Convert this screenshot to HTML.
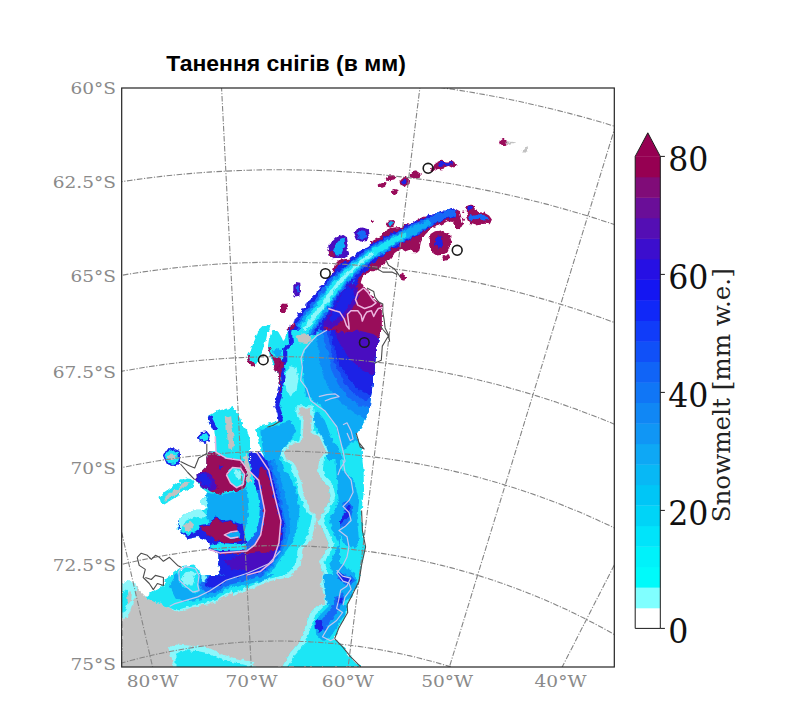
<!DOCTYPE html>
<html lang="uk"><head><meta charset="utf-8"><title>Танення снігів</title>
<style>
html,body{margin:0;padding:0;background:#fff;}
body{width:793px;height:720px;overflow:hidden;position:relative;font-family:"Liberation Sans",sans-serif;}
svg{position:absolute;left:0;top:0;display:block;}
.ttl{font-family:"Liberation Sans","DejaVu Sans",sans-serif;font-weight:bold;font-size:21.5px;fill:#000;}
.ax{font-family:"DejaVu Serif","Liberation Serif",serif;font-size:16.5px;fill:#8a8a8a;}
.cbt{font-family:"DejaVu Serif","Liberation Serif",serif;font-size:33.6px;fill:#111;}
.cbl{font-family:"DejaVu Serif","Liberation Serif",serif;font-size:25px;fill:#222;}
</style></head><body>
<svg width="793" height="720" viewBox="0 0 793 720">
<rect width="793" height="720" fill="#fff"/>
<defs><clipPath id="fr"><rect x="121.7" y="88" width="492.6" height="579"/></clipPath>
<filter id="bl" x="-2%" y="-2%" width="104%" height="104%"><feTurbulence type="fractalNoise" baseFrequency="0.22" numOctaves="2" seed="7" result="n"/><feDisplacementMap in="SourceGraphic" in2="n" scale="4.5" xChannelSelector="R" yChannelSelector="G" result="d"/><feGaussianBlur in="d" stdDeviation="0.5"/></filter></defs>
<g clip-path="url(#fr)">
<g filter="url(#bl)">
<defs><clipPath id="c1"><path d="M370 130 L540 130 L540 275 L370 275Z"/></clipPath><clipPath id="c2"><path d="M270 200 L370 200 L370 275 L445 275 L445 330 L270 330Z"/></clipPath><clipPath id="c3"><path d="M225 300 L290 300 L290 330 L400 330 L400 460 L250 460 L250 395 L225 395Z"/></clipPath><clipPath id="c4"><path d="M245 460 L400 460 L400 605 L232 605 L232 530 L245 530Z"/></clipPath><clipPath id="c5"><path d="M115 395 L250 395 L250 460 L245 460 L245 530 L115 530Z"/></clipPath><clipPath id="c6"><path d="M115 530 L232 530 L232 605 L272 605 L272 680 L115 680Z"/></clipPath><clipPath id="c7"><path d="M272 605 L440 605 L440 680 L272 680Z"/></clipPath><clipPath id="c8"><path d="M180 430 L250 430 L250 460 L340 460 L340 575 L180 575Z"/></clipPath></defs>
<g clip-path="url(#c1)">
<path fill="#99075a" d="M507.2 142.5 L506.4 144.6 L504.4 146 L501.9 146 L499.9 144.6 L499.1 142.5 L499.9 140.4 L501.9 139.1 L504.4 139.1 L506.4 140.4Z"/>
<path fill="#c2c2c2" d="M506.2 141.1 L515.7 142.5 L507.2 144.5Z M522.3 151.2 L526.4 145.7 L527.4 151.8Z"/>
<path fill="#99075a" d="M430.1 170.4 L432.6 165.9 L436.6 162.7 L441 160.7 L446.7 161.5 L451.7 160.7 L455.8 163.3 L456.4 166.7 L452.7 167.5 L449.7 165.9 L444.7 167.1 L442.6 170 L439.6 170.4 L437.6 167.5 L434.2 169.5 L431.5 171.6Z"/>
<path fill="#1a22e6" d="M437.6 163.9 L441 161.9 L447.7 162.3 L452.3 162.3 L453.1 164.3 L448.7 164.7 L443 165.5 L439.6 165.9Z"/>
<path fill="#99075a" d="M409.5 174.8 L412.4 172 L416.8 171.2 L420.4 173.4 L420.8 176.8 L417.6 178.4 L413.4 178 L410.4 177.6Z M399.5 180.4 L402.3 177.6 L406.7 176.8 L409.1 179.6 L408.3 184.1 L404.7 186.5 L400.7 185.3Z"/>
<path fill="#1a22e6" d="M406.5 182.1 L406.1 183.4 L405 184.2 L403.6 184.2 L402.5 183.4 L402.1 182.1 L402.5 180.8 L403.6 179.9 L405 179.9 L406.1 180.8Z"/>
<path fill="#99075a" d="M385.7 178 L389.2 175.6 L394.6 175.2 L397 177.6 L394.2 180.4 L389.8 181.3 L386.5 180.4Z M377.7 184.5 L381.1 182.9 L385.3 183.3 L385.3 186.5 L381.7 188.1 L378.1 187.3Z M391.8 190.5 L394.6 188.9 L397.4 190.1 L397.4 193.8 L394.6 195 L392.2 193.8Z M374 221.2 L373.7 222.2 L372.9 222.7 L371.9 222.7 L371.1 222.2 L370.8 221.2 L371.1 220.3 L371.9 219.7 L372.9 219.7 L373.7 220.3Z M386.1 223.2 L388.6 220.4 L392.6 220 L395 222.4 L393.8 226.4 L390.2 227.7 L386.9 226.4Z"/>
<path fill="#0eaaf5" d="M388.2 223.6 L390.2 221.2 L393 222 L392.6 225.2 L389.8 226.4Z"/>
<path fill="#99075a" d="M370 242.2 L376.1 239 L382.1 234.9 L385.7 230.5 L390.2 228.1 L400.3 226.9 L405.3 224 L410.4 224.4 L416.4 220.8 L422.9 216.8 L430.5 216.4 L436.6 214.3 L443 212.7 L449.1 210.3 L454.7 209.5 L460 212.3 L461.2 218 L463.2 224 L460 229.3 L455.6 227.7 L453.1 222 L447.5 221.2 L441 224.8 L435 226.4 L430.5 229.3 L424.9 234.9 L420.8 242.2 L419.2 251.1 L414 253.5 L410.4 249.5 L404.7 251.5 L400.3 249 L394.6 253.1 L390.2 259.1 L384.5 263.2 L378.1 269.6 L370 272.1Z"/>
<path fill="#1a22e6" d="M370 253.5 L376.1 251.1 L382.1 246.6 L386.9 240.6 L391 236.9 L402.3 232.5 L409.5 230.5 L414.8 228.5 L421.7 223.2 L427.3 220.4 L434.6 218.8 L441 216.4 L447.5 213.9 L453.1 212.3 L455.6 214.7 L454.7 217.6 L447.5 218.8 L441 220.4 L436.6 222 L429.7 224.8 L425.7 228.1 L417.6 234.5 L410.4 237.3 L406.3 240.6 L400.3 242.2 L394.2 245.4 L386.9 251.5 L382.1 255.9 L376.1 261.2 L370 264Z"/>
<path fill="#0eaaf5" d="M370 255.9 L378.1 251.9 L384.1 247 L390.2 240.6 L398.2 236.5 L406.3 234.1 L412.4 230.9 L416.4 230.9 L410.4 235.7 L404.3 239 L396.2 242.2 L390.2 247 L384.1 252.3 L378.1 256.7 L370 261.2Z"/>
<path fill="#8cf7fb" d="M374 255.5 L382.1 250.3 L388.2 245 L392.2 240.6 L396.2 239 L394.2 243 L389.4 247.8 L383.3 252.3 L376.1 257.1Z"/>
<path fill="#99075a" d="M428.9 239 L430.5 234.1 L435 231.3 L441 230.5 L445.1 232.5 L449.9 234.9 L451.5 240.6 L449.9 247 L447.5 252.3 L442.6 254.7 L436.6 255.5 L431.7 252.3 L429.3 247Z"/>
<path fill="#1a22e6" d="M435 240.6 L436.6 236.5 L439.8 235.3 L442.2 239 L443 244.2 L441 247.8 L437.4 247.4 L435.4 244.6Z"/>
<path fill="#99075a" d="M442.2 256.7 L449.1 255.1 L450.3 257.9 L443.4 259.9Z M465.2 207.5 L468.5 205.1 L473.3 206.3 L475.7 209.9 L479 212.3 L484.2 212.7 L489 215.6 L491.9 219.6 L490.3 223.2 L485 222.8 L480.6 224.8 L474.9 225.6 L470.1 224 L467.7 220.4 L466 216.4 L468.1 212.7 L465.6 210.3Z"/>
<path fill="#1469f6" d="M467.7 217.2 L470.9 214.7 L476.9 213.9 L482.2 214.7 L487.8 217.2 L489 220 L484.2 220.4 L479 218.8 L473.7 219.6 L469.3 220.4Z"/>
<path fill="#1a22e6" d="M472.1 208.3 L471.6 209.4 L470.4 210 L468.9 210 L467.7 209.4 L467.3 208.3 L467.7 207.2 L468.9 206.6 L470.4 206.6 L471.6 207.2Z"/>
<path fill="#99075a" d="M464.4 211.7 L464.2 212.4 L463.6 212.9 L462.8 212.9 L462.2 212.4 L462 211.7 L462.2 211 L462.8 210.6 L463.6 210.6 L464.2 211Z M465 218.8 L464.8 219.4 L464.3 219.7 L463.7 219.7 L463.2 219.4 L463 218.8 L463.2 218.2 L463.7 217.8 L464.3 217.8 L464.8 218.2Z"/>
</g>
<g clip-path="url(#c2)">
<path fill="#99075a" d="M440 215 L429.3 217 L421.2 220 L413.2 223.1 L403.1 229.1 L393 230.1 L384.9 235.2 L374.8 241.2 L368.8 247.3 L360.7 253.3 L350.6 258.4 L340.5 259.4 L334.5 265.4 L331.5 275.5 L328.4 281.6 L323.4 287.6 L320.4 295.7 L312.3 301.8 L304.2 307.8 L300.2 315.9 L294.1 324 L288.1 328 L286.1 336.1 L280 340.1 L280 360.1 L381.7 360.1 L381.9 305.2 L380.9 303.4 L374.8 299.7 L368.8 291.7 L364.7 287.6 L360.7 281.6 L362.7 275.5 L370 271.9 L378.1 269.5 L384.5 263.2 L390.2 259 L401.1 251.3 L413.2 245.3 L425.3 239.2 L440 235.2Z"/>
<path fill="#4a10c0" d="M327.6 249.3 L330.4 243.2 L336.5 237.2 L342.6 234.4 L347 237.2 L347.8 243.2 L346.6 249.3 L348.6 254.5 L344.6 258.2 L338.5 257.4 L332.9 258.2 L328.4 255.4Z"/>
<path fill="#99075a" d="M327.6 249.3 L332.9 251.3 L334.5 257.4 L329.2 256.2Z"/>
<path fill="#0eaaf5" d="M332.9 251.3 L335.7 244.5 L340.5 238.8 L344.6 237.6 L345 243.2 L342.6 249.7 L340.5 254.5 L336.5 255.4Z"/>
<path fill="#4a10c0" d="M354.3 233.2 L357.5 228.3 L362.7 227.5 L368.8 229.5 L369.6 235.2 L366.8 240.8 L361.5 242 L356.7 239.2Z"/>
<path fill="#1469f6" d="M357.5 233.6 L359.9 230.3 L364.7 230.7 L366.8 234.8 L363.9 238.8 L359.9 238.4Z"/>
<path fill="#4a10c0" d="M293.3 285.6 L296.1 282 L300.2 282.8 L301 289.7 L299.4 295.7 L295.3 296.5 L293.3 291.7Z"/>
<path fill="#1469f6" d="M295.7 286 L298.6 284.8 L299 291.7 L296.5 293.7Z"/>
<path fill="#99075a" d="M280 305 L284 303.4 L288.1 305 L287.3 309.8 L282.8 312.3 L280 311Z M374.4 221.1 L374.1 222 L373.3 222.6 L372.3 222.6 L371.5 222 L371.2 221.1 L371.5 220.1 L372.3 219.5 L373.3 219.5 L374.1 220.1Z M372.6 235.2 L372.3 236 L371.6 236.5 L370.8 236.5 L370.1 236 L369.8 235.2 L370.1 234.3 L370.8 233.8 L371.6 233.8 L372.3 234.3Z M399 274.7 L402.3 273.5 L405.5 277.6 L403.5 280.8 L400.3 279.2Z"/>
<path fill="#1a22e6" d="M440 217 L429.3 219.4 L421.2 222.7 L413.2 225.9 L403.5 231.5 L393.8 232.8 L385.7 237.6 L376 243.7 L370 249.7 L361.5 255.8 L351 261 L342.1 262.2 L336.9 267.1 L334.1 276.3 L330.8 283.2 L326 289.3 L322.8 297.3 L314.7 303.8 L307 309.8 L302.6 317.5 L296.5 325.6 L290.9 330 L288.9 337.3 L282 342.1 L280 344.1 L280 360.1 L310.3 360.1 L318.3 346.2 L323.4 336.1 L324.8 325.6 L328.4 315.9 L332.9 308.2 L340.5 300.6 L348.6 294.1 L355.1 287.6 L357.9 281.6 L360.7 273.9 L370.8 267.9 L376.9 261.8 L384.9 255.8 L393 249.7 L401.1 245.7 L409.1 241.6 L419.2 237.6 L429.3 234.4 L440 230.7Z"/>
<path fill="#1469f6" d="M440 219.4 L429.3 222.3 L421.2 225.1 L413.2 228.3 L404.3 233.6 L395 235.2 L386.9 239.6 L377.7 245.7 L371.2 251.7 L362.7 257.8 L351.8 263 L343.8 264.6 L339.3 268.7 L336.5 277.6 L333.3 284.4 L328.4 290.9 L325.2 298.5 L317.1 305.4 L309.5 311.4 L305 318.7 L299 326.8 L293.3 331.6 L291.3 338.5 L284 344.1 L280 347.4 L280 360.1 L304.2 360.1 L314.3 344.1 L319.5 334 L321.2 324 L325.2 314.3 L329.6 307 L337.3 298.9 L345.4 292.5 L351.8 286 L355.1 280 L357.9 272.3 L368 265.8 L374 259.8 L382.1 253.7 L390.2 248.1 L399 243.7 L407.1 239.6 L417.2 235.6 L427.3 232.4 L440 227.9Z"/>
<path fill="#1fe6f5" d="M440 221.9 L429.3 225.1 L421.2 227.5 L413.2 231.1 L405.1 236 L396.2 238 L388.2 242 L379.3 248.1 L372.8 254.1 L364.3 260.2 L353.4 265.4 L345.8 267.9 L341.7 271.5 L338.9 279.2 L335.7 286 L330.8 292.9 L327.6 300.6 L319.5 307.4 L311.9 313.5 L307.4 320.7 L301.4 328.8 L296.1 334 L293.7 340.5 L286.9 346.2 L280 352.2 L280 360.1 L298.2 360.1 L308.2 346.2 L314.7 334 L317.1 324 L321.6 313.1 L326.8 305.4 L334.5 296.9 L342.6 290.1 L348.6 284.4 L351.8 278.4 L355.1 270.7 L365.6 263.8 L371.6 257.8 L379.7 251.7 L387.7 246.1 L397 241.6 L405.1 237.6 L415.2 233.6 L425.3 230.7 L440 225.1Z"/>
<path fill="#8cf7fb" d="M409.1 234.8 L399 238.8 L390.2 243.7 L380.9 249.7 L374.4 255.8 L366 261.8 L355.1 267.5 L347.8 270.7 L344.6 275.5 L341.3 282.8 L337.7 288.8 L332.9 295.3 L329.6 302.6 L321.6 309.4 L314.3 315.5 L309.9 322.7 L303.8 330.8 L298.6 336.1 L296.1 342.5 L290.1 347.4 L292.1 352.2 L302.2 344.1 L310.3 334 L313.5 324 L318.3 313.1 L323.6 305 L331.3 296.1 L339.3 288.8 L345.4 282.8 L348.6 276.7 L352.2 269.5 L363.1 262.6 L369.6 256.6 L377.7 250.5 L385.7 244.9 L395 240.4 L403.1 236.8Z"/>
<path fill="#4a10c0" d="M327.4 328 L332.9 336.9 L340.5 340.5 L348.6 336.5 L356.7 334.5 L366.8 332.4 L376.9 334 L381.7 336.1 L381.7 360.1 L310.3 360.1 L318.3 346.2 L323.4 336.1Z"/>
<path fill="#1a22e6" d="M323.4 336.1 L328.4 340.1 L336.5 344.1 L346.6 344.1 L356.7 346.2 L364.7 354.2 L370.8 360.1 L310.3 360.1 L318.3 346.2Z"/>
<path fill="#1469f6" d="M320.4 342.1 L328.4 344.1 L336.5 348.2 L344.6 352.2 L350.6 360.1 L306.2 360.1 L314.3 346.2Z"/>
<path fill="#0eaaf5" d="M314.3 346.2 L322.4 346.2 L330.4 352.2 L334.5 360.1 L304.2 360.1Z"/>
</g>
<g clip-path="url(#c3)">
<path fill="#1fe6f5" d="M290.5 330 L380.3 330 L376.1 350.2 L374.5 370.4 L371.6 390.5 L369.2 410.7 L361.6 426.9 L355.5 434.9 L359.1 443 L362.4 451.1 L363.6 475.1 L270.4 475.1 L266.7 459.1 L260.7 451.1 L258.2 439 L256.2 429.3 L262.3 424.8 L278.4 421.2 L277.4 410.7 L275.6 404.7 L278.4 396.6 L280.4 386.5 L278.4 376.4 L276.8 370.4 L278.8 364.3 L282.9 356.2 L282.9 342.1 L286.5 334Z M246.5 357.5 L250.3 350.6 L254.1 341.7 L257.9 331.6 L264.2 325.3 L270.5 324 L269.5 329.1 L267 334.1 L265.7 340.5 L263.2 348 L261.9 353.1 L258.1 359.4 L255.6 365.7 L250.3 366 L247.8 361.9Z"/>
<path fill="#99075a" d="M246.5 357.5 L248.5 354.4 L249.8 359.4 L252.1 362.7 L256.1 363.7 L255.6 366 L250.3 366.2 L247.8 362.2Z"/>
<path fill="#1fe6f5" d="M269.2 337.9 L273 329.1 L278.1 331.6 L281.9 337.9 L284.4 344.2 L288.2 343 L290.7 353.1 L285.7 359.4 L284.4 368.3 L280.6 375.9 L275.6 370.8 L273 363.2 L269.2 354.4 L268 345.5Z"/>
<path fill="#99075a" d="M268 346.8 L270 348 L272 354.4 L275.3 357.1 L279.4 357.6 L282.1 359.4 L280.6 365.7 L278.1 370.8 L275.1 372.1 L273.5 368.3 L275.6 363.2 L273 359.4 L270 354.4Z"/>
<path fill="#0eaaf5" d="M273 350.6 L276.8 348 L280.6 350.6 L281.9 356.9 L278.1 356.9 L274.6 355.6Z"/>
<path fill="#99075a" d="M280.1 310.1 L282.1 306.6 L285.2 303.8 L288 303.8 L287.2 307.6 L284.4 312.1 L281.4 313.1Z"/>
<path fill="#c2c2c2" d="M296.6 336.1 L302.6 333.2 L310.7 334.8 L312.7 340.1 L306.7 342.9 L298.6 342.1Z"/>
<path fill="#0eaaf5" d="M260.3 430.4 L278.4 424.8 L290.5 420.4 L296.6 430.4 L290.5 440.5 L282.9 450.6 L278.4 464.7 L270.4 468.8 L264.3 460.7 L262.3 446.6Z M316.8 410.3 L324.8 420.4 L330.9 436.5 L339 448.6 L343 460.7 L334.9 464.7 L326.9 456.7 L324.8 444.6 L318.8 432.5 L312.7 420.4Z"/>
<path fill="#c2c2c2" stroke="#8cf7fb" stroke-width="5" stroke-linejoin="round" paint-order="stroke" d="M297.9 407.7 L310.6 407.7 L311.8 420 L310.6 432.6 L319.4 436.4 L323.2 445.3 L325.7 452.9 L320.7 457.9 L318.2 470.6 L320.7 478.2 L328.3 485.7 L330.8 495.9 L327 506 L325.7 510.9 L310.6 510.9 L306.8 500.9 L303 493.3 L301.7 483.2 L297.9 473.1 L295.4 465.5 L285.3 457.9 L282.8 452.9 L291.6 444 L301.7 442.8 L303 432.6 L303.6 420 L299.2 413.7Z"/>
<path fill="#8cf7fb" d="M286.5 370.4 L290.5 366.3 L296.6 368.3 L298.6 378.4 L296.6 390.5 L290.5 396.6 L286.5 390.5 L284.5 380.4Z"/>
<path fill="#0eaaf5" d="M327.1 330 L316.6 335.9 L304.1 350 L302.4 367.7 L304.1 381.9 L305.9 396 L320 404.7 L324.8 410.7 L330.9 418.8 L336.9 426.9 L340 439 L343 451.1 L345 461.2 L340 469.2 L337.9 475.1 L363.6 475.1 L362.4 451.1 L359.1 443 L355.5 434.9 L361.6 426.9 L369.2 410.7 L371.6 390.5 L374.5 370.4 L376.1 350.2 L380.3 330Z"/>
<path fill="#1fe6f5" d="M343 451.1 L349 445 L356.1 440 L359.1 443 L362.4 451.1 L363.6 475.1 L337.9 475.1 L340 469.2 L345 461.2Z"/>
<path fill="#108cf6" d="M318.2 330 L316.8 338.1 L318.8 352.2 L321.2 369.3 L328.1 386.5 L339 400.6 L353.1 412.7 L365.2 418.8 L369.2 410.7 L371.6 390.5 L374.5 370.4 L376.1 350.2 L380.3 330Z"/>
<path fill="#1469f6" d="M322.8 330 L323.2 338.1 L327.7 351.8 L331.1 369.3 L338.2 384.5 L348.8 397.6 L361 406.7 L370 406.7 L371.6 390.5 L374.5 370.4 L376.1 350.2 L380.3 330Z"/>
<path fill="#1646f2" d="M326.9 330 L327.7 336.1 L331.3 350.2 L335.7 366.3 L343.4 380.4 L353.5 393.6 L365.2 400.6 L370.8 398.6 L374.5 370.4 L376.1 350.2 L380.3 330Z"/>
<path fill="#1a22e6" d="M329.9 330 L330.7 332.4 L334.1 348.2 L339.4 364.1 L348.2 378.2 L358.9 390.5 L371.2 394.6 L374.5 370.4 L376.1 350.2 L380.3 330Z"/>
<path fill="#4a10c0" d="M332.9 330 L334.1 330.6 L339.4 342.9 L348.2 357 L358.9 367.7 L373.1 374.8 L374.5 370.4 L376.1 350.2 L380.3 330Z"/>
<path fill="#99075a" d="M328.9 330 L334.1 330.6 L344.8 332.4 L358.9 330.6 L373.1 334 L379.3 338.1 L380.3 330Z"/>
<path fill="#1a22e6" d="M289.9 325.4 L288.1 332.4 L289.1 342.9 L283.1 348.4 L283.1 360.7 L279.4 367.7 L281.3 378.2 L277.6 388.9 L276.8 396 L274.2 404.9 L277.6 413.5 L278.4 421.2 L282.9 421.2 L282.1 413.5 L279.2 404.9 L281.7 396 L282.5 388.9 L285.7 378.2 L284.1 367.7 L287.3 360.7 L287.3 350.2 L293 344.1 L292.1 332.4 L293.8 325.4Z"/>
<path fill="#99075a" d="M278.8 364.3 L281.7 360.3 L284.1 364.3 L281.7 370.4 L280.4 378.4 L281.7 386.5 L280 392.6 L278.4 396.6 L280.4 386.5 L278.4 376.4 L276.8 370.4Z"/>
<path fill="#1fe6f5" d="M230 406.7 L236.1 408.7 L241.3 416.8 L242.1 430.9 L244.1 443 L248.2 451.1 L242.1 453.1 L230 451.1Z"/>
<path fill="#c2c2c2" d="M230 418.8 L234 424.8 L238.1 443 L240.1 451.1 L230 451.1Z"/>
<path fill="#99075a" d="M230 453.1 L242.1 453.5 L248.2 459.1 L250.2 467.2 L252.2 475.1 L230 475.1Z"/>
<path fill="#1a22e6" d="M250.2 451.1 L260.3 453.1 L266.7 461.2 L270.4 475.1 L254.2 475.1 L252.2 465.2Z"/>
</g>
<g clip-path="url(#c4)">
<path fill="#1fe6f5" d="M230 460 L362.4 460 L363.6 470.1 L364 490.3 L361.6 510.4 L362.4 530.6 L365.6 546.8 L361.6 564.9 L359.1 581.1 L351.1 597.2 L347 605.1 L230 605.1Z"/>
<path fill="#8cf7fb" d="M290.5 460 L296.6 480.2 L304.7 500.4 L310.7 516.5 L309.1 526.6 L305.1 540.7 L297.4 548.8 L295 564.9 L285.7 575 L268.3 579 L248.2 587.1 L230 594.8 L230 605.1 L330.9 605.1 L326.9 585.1 L328.9 573 L324.8 560.9 L330.9 552.8 L334.9 544.7 L328.9 530.6 L322.8 520.5 L328.9 512.5 L334.9 500.4 L332.9 486.2 L322.8 476.1 L322 460Z"/>
<path fill="#c2c2c2" d="M296.6 460 L302.6 480.2 L310.7 500.4 L316.8 516.5 L314.7 526.6 L310.7 540.7 L302.6 548.8 L300.6 564.9 L290.5 577 L270.4 581.1 L250.2 589.1 L230 597.2 L230 605.1 L324.8 605.1 L324.8 597.2 L320.8 585.1 L322.8 573 L318.8 560.9 L324.8 552.8 L328.9 544.7 L322.8 530.6 L316.8 520.5 L322.8 512.5 L328.9 500.4 L326.9 486.2 L316.8 476.1 L316.8 460Z"/>
<path fill="#0eaaf5" d="M230 460 L290.5 460 L294.6 480.2 L298.6 500.4 L304.7 516.5 L300.6 530.6 L296.6 544.7 L290.5 560.9 L280.4 571 L265.3 580.1 L249.2 584.1 L230 588.1Z"/>
<path fill="#1469f6" d="M230 460 L278.4 460 L280.4 480.2 L284.5 500.4 L288.5 520.5 L287.5 532.6 L284.5 546.8 L276.8 564.9 L263.3 575.8 L248.2 579.9 L230 583.5Z"/>
<path fill="#1a22e6" d="M230 460 L272.4 460 L275.4 480.2 L278.4 500.4 L282.9 520.5 L282.9 530.6 L279.6 542.9 L272.8 561.1 L260.7 571.2 L246.5 575 L230 578.4Z"/>
<path fill="#99075a" d="M230 460 L269.5 460 L271.4 480.2 L274.8 500.4 L280.4 520.5 L280.4 530.6 L274.8 540.7 L260.3 547.2 L246.1 551.2 L230 553.2Z"/>
<path fill="#1a22e6" d="M230 460 L258.2 460 L262.3 480.2 L266.7 500.4 L265.5 520.5 L262.3 532.6 L256.2 540.7 L246.1 546.8 L230 548.8Z"/>
<path fill="#1469f6" d="M230 460 L254.2 460 L257.8 480.2 L260.3 500.4 L258.2 520.5 L252.2 536.7 L242.1 542.7 L230 544.7Z"/>
<path fill="#0eaaf5" d="M230 460 L250.2 460 L252.2 480.2 L254.2 500.4 L250.2 520.5 L242.1 534.7 L230 538.7Z"/>
<path fill="#1fe6f5" d="M230 488.2 L242.1 490.3 L248.2 500.4 L246.1 512.5 L238.1 516.5 L230 516.5Z"/>
<path fill="#1a22e6" d="M230 460 L246.1 460 L248.2 472.1 L244.1 488.2 L230 490.3Z"/>
<path fill="#99075a" d="M230 460 L242.1 460 L244.1 472.1 L240.1 486.2 L230 488.2Z"/>
<path fill="#1a22e6" d="M230 516.5 L238.1 518.5 L241.3 526.6 L236.1 533 L230 533Z"/>
<path fill="#99075a" d="M230 518.9 L236.1 520.5 L238.1 526.6 L234 530.6 L230 530.6Z"/>
<path fill="#0eaaf5" d="M324.8 472.1 L334.9 468.1 L347 472.1 L355.1 484.2 L359.1 500.4 L357.1 520.5 L359.1 540.7 L355.1 548.8 L345 544.7 L339 532.6 L334.9 520.5 L336.9 508.4 L334.9 492.3 L328.9 482.2Z"/>
<path fill="#1469f6" d="M343 502.4 L349 500.4 L353.1 508.4 L351.1 518.5 L345 526.6 L336.9 528.6 L334.9 524.6 L343 518.5 L345 510.4Z"/>
<path fill="#1a22e6" d="M345.4 505.6 L349 504.8 L350.3 510.4 L347.8 516.5 L344.2 520.5 L340.6 524.2 L339 523 L344.2 516.5 L345.8 510.4Z"/>
<path fill="#0eaaf5" d="M326.9 564.9 L339 562.9 L355.1 573 L357.1 585.1 L349 597.2 L343 605.1 L326.9 605.1 L324.8 591.2 L322.8 577Z"/>
<path fill="#1469f6" d="M334.9 569 L343 573 L351.1 577 L355.1 581.1 L349 585.1 L343 583.1 L336.9 577Z"/>
<path fill="#1a22e6" d="M336.9 571.4 L343 574.2 L349 577.8 L351.1 580.7 L347 582.3 L342.2 580.3 L338.2 575.8Z"/>
<path fill="#1469f6" d="M334.9 597.2 L343 593.2 L345 601.2 L341 605.1 L334.9 605.1Z"/>
<path fill="#1a22e6" d="M337.3 599.2 L341.4 597.2 L342.2 602.1 L339 603.7Z"/>
</g>
<g clip-path="url(#c5)">
<path fill="#1fe6f5" d="M206.8 417.2 L216.9 411.1 L233 407.1 L239 415.2 L245.1 431.3 L251.2 447.5 L259.2 455.5 L261.2 475.7 L265.3 495.9 L269.3 516.1 L273.3 540.1 L178.5 540.1 L177.5 526.2 L180.5 516.1 L188.6 511 L200.7 508 L204.7 499.9 L200.7 491.9 L195.1 481.8 L195.1 475.7 L206.8 461.6 L208.8 453.5 L214.8 445.4 L214.8 435.4 L210.8 427.3Z"/>
<path fill="#1a22e6" d="M206.8 417.2 L210.8 415.2 L214.8 423.2 L218.9 435.4 L218.9 445.4 L214.8 453.5 L208.8 453.5 L214.8 445.4 L214.8 435.4 L210.8 427.3Z"/>
<path fill="#c2c2c2" d="M224.9 417.2 L231 415.2 L233 431.3 L232.2 447.5 L226.9 445.4 L225.7 431.3Z M245.1 453.5 L251.2 451.5 L253.6 463.6 L253.2 475.7 L247.1 473.7Z"/>
<path fill="#1a22e6" d="M197.5 435.4 L200.7 432.1 L206.8 432.5 L209.2 437.4 L208 442.6 L202.7 443.8 L198.7 440.6Z"/>
<path fill="#1fe6f5" d="M199.5 436.2 L201.9 434.1 L206 434.5 L207.2 437.8 L206 441 L202.7 441.8 L200.3 439.8Z"/>
<path fill="#1a22e6" d="M162.8 455.5 L165.6 449.9 L172.5 447.9 L179.3 450.7 L181.3 457.6 L179.7 464 L172.9 466 L166.8 464Z"/>
<path fill="#1fe6f5" d="M164.4 455.9 L166.8 451.5 L172.5 449.9 L177.7 452.3 L179.3 457.6 L178.1 462.4 L172.9 464 L168 462.4Z"/>
<path fill="#c2c2c2" d="M167.6 456.7 L170.4 453.5 L175.7 454.3 L176.5 458.8 L172.9 460.8 L169.2 460Z"/>
<path fill="#1fe6f5" d="M159.5 497.9 L164.4 491.9 L176.5 483.8 L188.6 478.9 L195.1 480.6 L195.1 486.2 L186.6 491.9 L174.5 497.9 L164.4 504 L161.2 504Z"/>
<path fill="#c2c2c2" d="M163.6 498.3 L168.4 493.9 L178.5 488.2 L188.6 483.8 L190.6 486.2 L180.5 491.9 L170.4 497.5 L165.2 500.7Z"/>
<path fill="#99075a" d="M208.8 453.5 L216.9 455.5 L229 453.5 L241.1 453.5 L243.5 463.6 L245.5 475.7 L243.5 487.8 L237 492.3 L224.9 492.3 L220.9 496.3 L212.8 493.9 L204.7 496.3 L200.7 491.9 L195.1 481.8 L195.1 475.7 L206.8 461.6Z"/>
<path fill="#4a10c0" d="M195.1 475.7 L204.7 470.1 L214.8 475.7 L217.3 485.8 L208.8 492.3 L200.7 491.9 L195.1 481.8Z"/>
<path fill="#1a22e6" d="M195.1 476.5 L202.7 473.7 L208.8 479.7 L206.8 487.8 L200.7 489.8 L195.9 481.8Z"/>
<path fill="#1fe6f5" d="M226.9 472.1 L233 467.6 L241.1 469.7 L243.5 479.7 L239 484.2 L231 482.2Z"/>
<path fill="#8cf7fb" d="M235 472.9 L240.3 472.1 L241.5 478.5 L237.4 480.6Z"/>
<path fill="#1a22e6" d="M214.8 445.4 L220.9 446.7 L229 451.9 L241.1 452.3 L249.1 449.5 L251.2 447.9 L259.2 455.5 L261.2 475.7 L253.2 475.7 L249.1 461.6 L243.5 455.5 L229 454.7 L216.9 456.3 L208.8 453.9Z"/>
<path fill="#0eaaf5" d="M204.7 499.9 L214.8 495.9 L229 499.9 L241.1 508 L249.1 520.1 L253.2 540.1 L200.7 540.1 L200.7 516.1Z"/>
<path fill="#99075a" d="M208.8 524.1 L216.9 516.5 L224.9 524.1 L233 520.5 L241.1 524.5 L242.3 540.1 L208.8 540.1Z"/>
<path fill="#1a22e6" d="M178.5 524.1 L180.5 516.1 L188.6 511 L200.7 508 L204.7 512 L192.6 516.1 L184.6 522.1 L182.6 540.1 L178.5 540.1Z"/>
<path fill="#c2c2c2" d="M184.6 526.2 L188.6 523.3 L191.8 528.2 L188.6 534.2 L185 532.2Z"/>
<path fill="#1a22e6" d="M259.2 455.5 L269.3 451.5 L280 459.6 L280 540.1 L269.3 540.1 L266.1 516.1 L262.5 495.9 L259.2 475.7Z"/>
<path fill="#99075a" d="M264.5 457.6 L272.5 454.7 L280 463.6 L280 540.1 L274.2 540.1 L270.1 516.1 L266.1 495.9 L262.5 475.7Z"/>
<path fill="#1fe6f5" d="M257.2 431.3 L263.3 423.2 L273.3 425.3 L280 423.2 L280 459.6 L269.3 451.5 L261.2 454.7 L258 443.4Z"/>
</g>
<g clip-path="url(#c6)">
<path fill="#1fe6f5" d="M177.6 525 L181.6 533.1 L195.7 539.1 L207.8 537.1 L209.8 545.2 L207.8 551.2 L215.9 559.3 L219.9 565.4 L225 573.4 L215.9 571.4 L209.8 570.4 L199.7 573.4 L197.7 568.4 L183.6 565.4 L175.5 571.4 L165.4 579.5 L163.4 585.5 L155.4 589.6 L145.3 597.6 L143.2 603.7 L155.4 605.7 L167.5 609.7 L175.5 613.8 L195.7 607.7 L215.9 603.7 L228 595.6 L240.1 587.6 L256.2 585.5 L275 581.5 L275 525Z"/>
<path fill="#8cf7fb" d="M143.2 599.7 L155.4 602.5 L167.5 606.5 L175.5 610.6 L195.7 604.5 L215.9 600.5 L228 592.4 L240.1 584.7 L256.2 582.3 L275 577.9 L275 585.5 L256.2 588 L240.1 590 L228 598 L215.9 606.1 L195.7 610.6 L175.5 616.2 L167.5 612.2 L155.4 608.1 L143.2 605.7Z"/>
<path fill="#0eaaf5" d="M211.9 547.2 L275 543.2 L275 573.4 L256.2 577.9 L240.1 579.9 L228 588 L215.9 595.6 L199.7 599.7 L183.6 601.7 L175.5 597.6 L169.5 585.5 L175.5 575.4 L183.6 569.4 L195.7 573.4 L209.8 573.4 L225 575.4 L219.9 565.4 L215.9 559.3Z"/>
<path fill="#1469f6" d="M211.9 547.2 L275 543.2 L275 566.4 L260.3 572.6 L244.1 577.9 L232 583.5 L219.9 590 L207.8 594.4 L199.7 585.5 L203.8 577.5 L209.8 574.4 L225 575.4 L219.9 565.4 L215.9 559.3Z"/>
<path fill="#1a22e6" d="M209.8 545.2 L275 539.1 L275 559.3 L264.3 565.4 L252.2 570.6 L240.1 575.4 L230 578.7 L219.9 584.7 L211.9 588.8 L204.6 584.7 L209.8 575.4 L225 575.4 L219.9 563.3 L213.9 555.3Z"/>
<path fill="#0eaaf5" d="M209.8 545.2 L219.9 541.1 L236.1 543.2 L244.1 547.2 L236.1 551.2 L224 552 L213.9 551.2Z"/>
<path fill="#99075a" d="M244.1 547.2 L256.2 544.4 L275 543.2 L275 525 L256.2 525 L260.3 533.1 L256.2 541.1Z"/>
<path fill="#1fe6f5" d="M178 577.5 L183.6 569.4 L193.7 567.8 L198.9 572.6 L197.7 581.5 L199.7 589.6 L194.9 594 L187.6 589.6 L181.6 585.5Z"/>
<path fill="#8cf7fb" d="M181.6 577.9 L185.6 573.4 L192.5 572.6 L194.9 577.9 L192.5 585.5 L187.6 585.5 L183.6 582.7Z M201.4 575.8 L205 574.6 L206.6 579.5 L203.8 582.7 L201.4 580.7Z"/>
<path fill="#1a22e6" d="M177.6 525 L181.6 533.1 L195.7 539.1 L207.8 537.1 L209.8 545.2 L219.9 541.1 L236.1 543.2 L244.1 547.2 L256.2 541.1 L260.3 533.1 L256.2 525Z"/>
<path fill="#1fe6f5" d="M179.6 525 L183.6 532.3 L193.7 535.9 L199.7 533.1 L199.7 525Z"/>
<path fill="#99075a" d="M201.8 525 L203.8 533.1 L211.9 537.9 L224 539.1 L236.1 537.1 L242.1 531.1 L240.1 525Z"/>
<path fill="#0eaaf5" d="M219.9 529 L228 527 L236.1 529 L234 533.9 L226 535.1 L220.7 533.9Z"/>
<path fill="#c2c2c2" d="M122.1 619.8 L127.1 613.8 L135.2 585.5 L147.3 598.4 L155.4 602.5 L167.5 606.5 L175.5 612.6 L195.7 606.5 L215.9 602.5 L228 594.4 L240.1 586.3 L256.2 584.3 L275 579.9 L275 670.1 L122.1 670.1Z"/>
<path fill="#8cf7fb" d="M122.1 585.5 L127.1 579.5 L135.2 583.5 L137.2 591.6 L133.2 601.7 L129.1 613.8 L125.1 619.8 L122.1 619.8Z"/>
<path fill="#1fe6f5" d="M122.1 591.6 L127.1 589.6 L129.1 599.7 L125.1 609.7 L122.1 611.8Z"/>
<path fill="#c2c2c2" d="M127.1 591.6 L131.9 591.6 L131.1 601.7 L127.9 605.7Z"/>
<path fill="#8cf7fb" d="M167.9 648.1 L175.5 644.5 L195.7 646.1 L208.2 648.1 L220.7 654.1 L236.1 658.2 L253 662.2 L256.2 670.1 L173.5 670.1 L171.9 658.2Z"/>
<path fill="#1fe6f5" d="M175.5 654.1 L183.6 650.1 L195.7 650.9 L207.8 653.3 L219.9 659 L236.1 663 L252.2 667.1 L252.2 670.1 L175.5 670.1Z"/>
</g>
<g clip-path="url(#c7)">
<path fill="#c2c2c2" d="M270 580.2 L300.3 560 L322.9 560 L320.8 572.1 L324.9 586.2 L322.9 600.4 L310.8 612.5 L306.7 624.6 L300.7 640.7 L290.6 652.8 L282.5 666.9 L270 666.9Z"/>
<path fill="#1fe6f5" d="M322.5 560 L320.4 572.1 L324.5 586.2 L322.5 600.4 L310.4 612.5 L306.3 624.6 L300.3 640.7 L290.2 652.8 L282.1 666.9 L360.8 666.9 L350.7 656.9 L342.6 646.8 L334.6 638.7 L338.6 628.6 L347.7 612.5 L346.7 600.4 L350.7 588.2 L358.8 578.2 L362.8 560Z"/>
<path fill="#8cf7fb" d="M322.5 560 L320.4 572.1 L324.5 586.2 L322.5 600.4 L310.4 612.5 L306.3 624.6 L300.3 640.7 L290.2 652.8 L282.1 666.9 L288.2 666.9 L295.4 654.8 L305.5 642.7 L311.2 626.6 L314.8 615.7 L326.9 603.2 L328.9 586.2 L324.9 572.1 L326.9 560Z"/>
<path fill="#0eaaf5" d="M330.5 564 L338.6 562 L354.7 568.1 L356.8 578.2 L349.9 587.4 L345.5 599.5 L346.3 611.7 L337.4 626.6 L330.5 636.7 L322.5 640.7 L316.4 634.7 L314.4 622.6 L320.4 614.5 L330.5 604.4 L332.6 588.2 L329.7 574.1Z"/>
<path fill="#1469f6" d="M334.6 568.1 L342.6 568.1 L352.7 574.1 L350.7 584.2 L345.1 590.3 L340.6 600.4 L338.6 610.4 L330.5 620.5 L324.5 630.6 L318.4 628.6 L322.5 618.5 L332.6 606.4 L336.6 590.3 L334.6 578.2Z"/>
<path fill="#1a22e6" d="M336.6 570.1 L342.6 571.3 L350.7 578.2 L348.3 585 L342.6 586.2 L338.6 580.2Z M333.8 594.3 L338.6 594.3 L339.8 601.6 L335.8 604.4 L333.4 600.4Z M315.6 620.5 L321.7 619.7 L323.3 628.6 L319.2 631.8 L316 628.6Z"/>
</g>
<g clip-path="url(#c8)">
<path fill="#ffffff" d="M180 430 L340 430 L340 575.1 L180 575.1Z"/>
<path fill="#1fe6f5" d="M214.3 430 L215.3 438.1 L215.9 452.2 L208.2 452.2 L206.2 458.2 L206.2 466.3 L200.2 472.4 L195.1 478.4 L201.2 487.5 L207.2 492.6 L206.2 496.6 L200.2 499.6 L202.2 504.7 L208.2 506.7 L202.2 510.7 L192.1 510.7 L184 514.7 L180 518.8 L180 530.9 L188.1 539 L198.2 536.9 L204.2 539 L210.3 545 L208.2 549 L218.3 553.5 L218.3 563.2 L220.4 575.1 L340 575.1 L340 430 L260.7 430 L263.1 440.1 L260.7 452.2 L256.7 452.6 L250.6 442.1 L247 430Z"/>
<path fill="#1a22e6" d="M197.8 436.1 L201 432 L207 431.6 L210.7 436.1 L209.5 441.3 L203.8 442.9 L199.4 440.5Z"/>
<path fill="#1fe6f5" d="M199.8 436.5 L202.2 433.6 L206.6 433.2 L208.7 436.5 L207.8 440.1 L203.8 441.3 L200.6 439.7Z M180 480.4 L186.1 477.6 L192.1 478 L194.5 481.7 L192.1 487.3 L186.1 490.5 L180 492.6Z"/>
<path fill="#c2c2c2" d="M180 484.1 L186.1 481.7 L190.1 482.5 L186.1 486.5 L180 488.9Z"/>
<path fill="#8cf7fb" d="M285.7 460.1 L290.6 465.5 L293 473.2 L297 483.3 L298.2 493.4 L301.9 500.8 L305.9 510.9 L312 516.6 L309.9 526.7 L305.9 540.8 L297.8 548.8 L295.8 565 L285.7 575.1 L321.2 575.1 L321.2 460.1Z"/>
<path fill="#c2c2c2" d="M290.6 460.1 L295.4 465.5 L297.8 473.2 L301.7 483.3 L303.1 493.4 L306.7 500.8 L310.8 510.9 L316.8 516.6 L314.8 526.7 L310.8 540.8 L302.7 548.8 L300.7 565 L290.6 575.1 L323.7 575.1 L319.2 561.2 L325.3 553.1 L329.3 544.8 L323.3 530.7 L317.2 520.6 L323.3 512.5 L329.3 500.4 L330.7 496 L328.3 485.7 L320.6 478.2 L318.2 470.6 L319.2 460.1Z"/>
<path fill="#8cf7fb" d="M319.2 460.1 L318.2 470.6 L320.6 478.2 L328.3 485.7 L330.7 496 L329.3 500.4 L323.3 512.5 L318 520.6 L323.3 530.7 L329.3 544.8 L325.3 553.1 L319.2 561.2 L323.7 575.1 L328.5 575.1 L324.5 561.6 L329.7 553.5 L334.2 544.8 L328.1 530.7 L323.3 520.6 L328.1 512.5 L334.2 500.4 L335.4 496 L332.9 484.5 L325.3 476.8 L322.9 470.6 L323.7 460.1Z"/>
<path fill="#0eaaf5" d="M335.4 460.1 L340 460.1 L340 575.1 L333.3 575.1 L329.3 563.2 L334.6 553.5 L338.6 544.8 L333.3 530.7 L329.3 520.6 L333.3 512.5 L338.6 500.4Z M250 460.1 L280.9 460.1 L284.9 470.4 L293 480.4 L297 494.6 L299.5 510.7 L297.8 526.9 L292.2 543 L282.9 555.1 L273.2 569.2 L266.8 575.1 L250 575.1Z"/>
<path fill="#108cf6" d="M250 460.1 L274.8 460.1 L279.3 474.4 L284.9 494.6 L289 514.7 L290.2 526.9 L286.9 543 L280.5 555.1 L272 567.2 L262.7 575.1 L250 575.1Z"/>
<path fill="#1469f6" d="M250 460.1 L270.4 460.1 L274.8 474.4 L280.1 494.6 L283.7 514.7 L286.5 526.9 L283.9 543 L278.9 555.1 L270.8 567.2 L260.7 575.1 L250 575.1Z"/>
<path fill="#1a22e6" d="M250 460.1 L266.8 460.1 L272 474.4 L276.9 494.6 L280.9 510.7 L284.1 524.8 L282.5 540 L277.9 552.1 L269.8 564.2 L261.7 572.3 L250 575.1Z"/>
<path fill="#1fe6f5" d="M246.6 454.2 L256.7 452.6 L260.7 466.3 L262.7 486.5 L265.6 502.6 L266.8 516.8 L262.7 530.9 L258.7 541 L250.6 549 L246.6 551.1 L246.6 526.9 L248.6 510.7 L246.6 488.5Z"/>
<path fill="#1a22e6" d="M248.6 452.6 L259.7 452.2 L264.7 462.3 L260.7 465.5 L259.1 478.4 L261.5 490.5 L256.7 490.5 L252.6 474.4 L248.6 460.3Z"/>
<path fill="#1469f6" d="M261.5 490.5 L264.7 502.6 L266 516.8 L262.3 530.9 L258.3 540.6 L250.6 548.6 L246.6 550.7 L246.6 543 L254.7 534.9 L259.1 520.8 L259.9 506.7 L257.5 490.5Z"/>
<path fill="#1a22e6" d="M246.6 553.5 L274.8 551.1 L278.9 543 L280.5 534.9 L282.1 524.8 L274.8 559.1 L264.7 569.2 L248.6 575.1 L220.4 575.1 L218.3 563.2 L218.3 553.5Z"/>
<path fill="#4a10c0" d="M246.6 553.5 L274.8 551.1 L276.9 548 L273.2 559.1 L263.9 567.2 L248.6 571.2 L232.5 569.2 L224.4 561.2Z"/>
<path fill="#99075a" d="M260.3 464.3 L265.1 470.4 L270 480.4 L273.4 496.6 L277.1 510.7 L281.1 520.8 L280.7 534.9 L278.3 545 L274.8 551.1 L246.6 553.5 L220.4 553.9 L208.2 549.5 L220.4 551.1 L246.6 550.3 L254.7 545 L260.3 534.9 L263.9 520.8 L263.5 506.7 L261.5 490.5 L258.3 478.4Z"/>
<path fill="#0eaaf5" d="M207.2 492.6 L220.4 495 L236.5 490.9 L246.6 488.9 L248.6 510.7 L246.6 524.8 L240.5 543 L230.4 520.8 L222.4 522.8 L216.3 516.8 L210.3 524.8 L206.2 514.7 L208.2 506.7 L206.2 496.6Z"/>
<path fill="#8cf7fb" d="M200.2 499.6 L206.2 497 L208.2 506.7 L202.2 505.1Z M180 518.8 L184 514.7 L192.1 510.7 L202.2 510.7 L206.2 514.7 L202.2 518.8 L194.1 516.8 L186.1 520.8 L182 526.9 L180 530.9Z"/>
<path fill="#c2c2c2" d="M184 524.8 L190.1 520.8 L194.1 524.8 L190.1 530.9 L185.2 530.9Z"/>
<path fill="#1a22e6" d="M180 530.9 L188.1 539 L198.2 536.9 L204.2 539 L210.3 545 L208.2 549 L218.3 553.5 L246.6 551.1 L246.6 543 L242.6 524.8 L236.5 522.8 L230.4 519.8 L222.4 521.2 L216.3 515.6 L210.3 523.2 L200.2 525.2 L196.1 530.9 L188.1 534.9Z"/>
<path fill="#1fe6f5" d="M210.3 545 L220.4 543 L236.5 544.2 L246.6 543 L246.6 550.3 L220.4 551.1 L210.3 549Z M178 575.1 L180 571.2 L183.6 566.8 L193.7 565.6 L199 569.2 L201 575.1Z"/>
<path fill="#8cf7fb" d="M184 575.1 L186.1 571.2 L192.1 570 L196.1 575.1Z"/>
<path fill="#99075a" d="M208.2 452.2 L215.9 453.2 L226.4 458.2 L240.5 460.3 L245.8 466.3 L247 478.4 L245 488.5 L236.5 490.9 L226.4 490.9 L220.4 495 L210.3 490.9 L202.2 486.9 L195.1 478.4 L200.2 472.4 L206.2 466.3 L206.2 458.2Z"/>
<path fill="#4a10c0" d="M195.1 478.4 L200.2 472.8 L206.2 470.8 L214.3 478.4 L218.3 488.9 L210.3 490.9 L202.2 486.9Z"/>
<path fill="#1a22e6" d="M196.1 478.4 L201 474.8 L205.8 473.6 L210.3 480.4 L210.3 487.7 L202.6 485.3Z"/>
<path fill="#1fe6f5" d="M226.4 474.8 L232.5 467.5 L240.5 468.3 L244.6 474.4 L243 484.5 L236.5 487.7 L230.4 482.9Z"/>
<path fill="#8cf7fb" d="M234.5 470.4 L240.1 470.4 L242.6 475.6 L239.7 479.6 L235.7 476.8Z"/>
<path fill="#1a22e6" d="M218.7 465.5 L222.8 464.7 L221.2 469.1Z"/>
<path fill="#99075a" d="M200.2 527.3 L210.3 524.8 L216.3 517.2 L222.4 522.8 L230.4 520.8 L236.5 524.8 L237.7 530.9 L230.4 532.1 L224.4 534.9 L230.4 538.2 L238.5 536.9 L242.6 540 L236.5 543 L226.4 543 L216.3 540.2 L208.2 535.3Z"/>
<path fill="#0eaaf5" d="M237.7 530.9 L230.4 532.1 L224.4 534.9 L230.4 538.2 L238.5 536.9 L240.5 533.9Z"/>
<path fill="#c2c2c2" d="M226.8 430 L232.9 430 L234.1 442.1 L232.9 450.2 L228.4 449.4 L227.6 440.1Z M242.6 456.2 L246.6 454.2 L250.6 470.4 L251 482.5 L247.4 480.4 L245.8 468.3Z"/>
</g>
<path fill="#4a10c0" d="M346.1 280.2 L355.7 284.7 L358.7 295.8 L353.6 306.9 L343.6 319.5 L331.5 328.6 L322.9 326.1 L329.4 311 L337 295.8Z"/>
<path fill="#1a22e6" d="M346.1 285.8 L353.1 288.8 L354.1 296.8 L349.1 305.9 L340.5 316 L332 322.6 L329.4 318.5 L336 305.9 L341.5 294.8Z M456.4 211 L452.7 207.8 L450.4 208.8 L447.1 209.3 L445.3 210.8 L442.9 210.1 L440.7 210.8 L438.6 211.9 L436.4 213.2 L433.5 213 L431.9 215.3 L428.9 214.7 L427.2 216.8 L425.3 218.1 L422.9 218.4 L421.1 219.7 L419.2 220.7 L417.2 221.5 L414.8 221.5 L413.2 222.7 L411.2 222.9 L410.1 225.2 L407.7 225.1 L405.7 225.6 L404 226.6 L402.6 228.3 L400.3 228.2 L398.8 229.7 L397.3 231.3 L394.8 230.9 L393.5 232.8 L391 232.9 L389.3 234.4 L387 235.5 L384.8 236.8 L382.8 238.1 L381.2 240 L378.4 239.7 L377 241.6 L374.9 242.4 L372.7 243.1 L370.3 244.1 L368.3 245.9 L366.3 247.1 L364.7 248.9 L362.2 249.1 L360.8 250.5 L359 251.5 L357.2 252.9 L355.7 254.6 L354.3 256.8 L351.8 257.5 L350 259 L348.2 260.7 L346.1 261.9 L344.1 263.3 L343 265.6 L341 266.8 L338.3 267.3 L336.4 269.1 L335.1 271.4 L332.8 272.6 L331.9 275.1 L329.3 275.7 L328.6 278 L326.5 279.5 L324.9 281.6 L323.4 283.6 L321.2 285.2 L320.6 287.2 L319.8 289.1 L318.1 290.4 L317.5 292.1 L315.9 293.1 L314.4 294.6 L313.9 296.8 L312.3 298.4 L310.8 300.2 L308.5 301.4 L307.7 303.7 L305.5 304.7 L304.9 307.1 L303.3 308.6 L302 310.4 L300.9 312.6 L298 313.5 L297.7 316.1 L296.4 318 L294.6 319.3 L294.2 321.4 L292.1 322.5 L313 336 L314.1 334.3 L315.7 333 L317.6 331.7 L318.4 330.1 L319.4 328.6 L319.7 326.4 L321.4 325.1 L322.6 323.3 L324 321.6 L325.1 319.7 L327 318.4 L327.7 316 L329.3 314.3 L330.7 312.5 L331 309.8 L333.6 308.6 L334.2 305.9 L336.3 304.7 L336.4 302 L337.7 300.5 L338.9 298.8 L339.8 297 L340.4 295.4 L341.5 294.2 L342 292.3 L343.9 291.5 L344.7 289.3 L345.7 287.3 L347 285.9 L349.2 285.3 L350.6 283.7 L352 282.2 L353.4 280.2 L354.5 278.1 L356.4 276.8 L358.1 275.4 L359.4 273.4 L361.2 272.1 L362.6 270.1 L365 269.4 L366.1 267.3 L367.7 266.2 L369.4 265.3 L371.1 264.2 L371.8 261.7 L374 261.2 L375.2 260 L377.1 259.6 L378.2 257.5 L380.3 256.9 L382.7 256.4 L384.1 253.9 L386.5 253.3 L388.7 252.1 L390.1 249.7 L392.5 249 L394.7 248.3 L396.3 246.6 L398.1 246.1 L399.7 245 L401.4 243.8 L403 242.6 L405.1 242.2 L407.1 241.7 L408.7 240.3 L410.5 239.5 L412.1 238.1 L414.1 237.6 L415.6 236 L417.8 235.9 L419.1 233.8 L421.2 233.4 L422.6 231.4 L424.9 230.9 L426.6 229.4 L428.6 228.7 L430.2 227.1 L432.1 226.3 L434.1 225.1 L436.3 224.2 L437.9 222.2 L440.6 222.6 L442.3 221.1 L443.7 219.2 L445.8 219.2 L447.6 217.8 L450 218.3 L450.9 217.2 L452.7 216.1 L455.6 217.8Z"/>
<path fill="#1469f6" d="M456.5 210.5 L452.7 210 L450.4 209.3 L447.4 210.3 L445.4 211 L443.4 211.6 L441.2 212.4 L438.9 212.6 L436.4 213.2 L434.4 214.9 L432.5 216.4 L429.9 216.7 L427.7 217.7 L425.6 218.5 L423.8 220 L421.7 220.8 L419.6 221.5 L417.6 222.3 L415.6 222.9 L413.9 224 L412.1 224.8 L410.6 226.2 L408.3 226.2 L406.7 227.4 L405 228.6 L403.2 229.5 L401.4 230.3 L399.6 231.4 L397.4 231.5 L395.8 232.8 L393.9 233.5 L392.3 235.2 L389.9 235.5 L387.6 236.5 L385.4 237.8 L383.3 239 L381.7 240.8 L379.7 241.8 L378 243.3 L375.8 244 L373.7 244.9 L371.3 245.9 L369 246.9 L367.2 248.5 L365.4 249.9 L364.2 251.7 L362.6 253 L360.2 253.2 L359.1 255.3 L357.1 256.3 L355.6 258.3 L353.6 259.6 L351.8 261.1 L350 262.7 L348.1 264.2 L345.4 264.7 L344.3 267 L342.3 268.2 L339.8 269 L338.9 271.7 L336.3 272.6 L335.2 274.9 L333.7 276.6 L331.2 277.4 L329.6 278.8 L327.8 280.6 L326.5 282.9 L324.9 284.7 L324.3 287.1 L322.1 288.2 L321.3 290.1 L320.2 291.8 L318.6 292.9 L318.1 294.7 L317.5 296.8 L316 298.3 L314.6 300.2 L313.1 302 L311.1 303.3 L309.1 304.7 L308.6 307.1 L307.2 308.8 L305.4 310.2 L303.9 311.8 L302.8 314 L301.8 316.2 L300 317.7 L298.4 319.3 L298.1 321.5 L296.8 323.1 L295.2 324.5 L312 335.4 L312.8 333.4 L313.8 331.7 L314.9 330 L315.7 328.3 L316.6 326.7 L318.5 325.5 L319.3 323.6 L321.3 322.3 L322.4 320.4 L323.5 318.4 L325.5 317.2 L326.8 315.3 L327.7 313.1 L328.4 310.8 L329.7 308.8 L331.7 307.3 L333 305.1 L333.9 303.1 L334.9 301.1 L336.3 299.5 L336.9 297.6 L338.4 296.1 L339.1 294.5 L339.8 292.9 L341.6 291.9 L342.8 290.5 L344.1 288.8 L345.1 286.8 L346.2 285.1 L347.9 284 L349 282 L350.3 280.3 L351.8 278.5 L354.1 277.6 L355.1 275.4 L356.8 273.9 L359 272.9 L360.8 271.6 L362.2 269.7 L363.6 267.8 L365.5 266.7 L367.2 265.7 L368.1 263.7 L370 262.7 L371.9 261.9 L372.9 259.9 L374.2 258.5 L375.8 257.5 L378 257.1 L379.4 255.2 L382 255.2 L383.5 253 L385.9 252.3 L387.9 250.9 L390.1 249.8 L391.8 247.9 L393.7 246.6 L395.5 245.2 L397.3 244.6 L399.1 243.9 L401.2 243.6 L402.7 242 L404.8 241.6 L406.6 240.6 L408.4 239.8 L409.9 238.3 L411.8 237.6 L413.2 235.8 L415.6 236 L417.2 234.8 L419.1 234 L420.9 232.9 L422.3 230.8 L424.9 230.8 L426 228.5 L427.8 227.2 L430 226.8 L432.1 226.2 L433.7 224.2 L435.5 222.7 L437.8 221.9 L439.9 221.2 L442.2 220.7 L443.7 219.1 L445.5 218.1 L447.7 218.1 L449.5 216.9 L450.9 217 L452.7 215.2 L455.6 217.4Z"/>
<path fill="#0eaaf5" d="M428.3 219.2 L426.3 220 L424.2 220.7 L422.7 222.6 L420.6 223.2 L418.1 223.2 L416.3 224.4 L414.7 225.5 L412.9 226.4 L411.2 227.4 L409.3 228.1 L407.4 228.8 L405.9 230.4 L403.7 230.4 L402 231.5 L400.1 232.4 L398.5 233.8 L396.7 234.6 L394.5 234.8 L393.2 236.8 L390.6 236.6 L388.7 238.4 L386.7 239.9 L384.8 241.3 L382.6 242.2 L380.6 243.3 L378.4 244.1 L376.6 245.4 L374.4 246.2 L372.2 247.4 L370.2 248.8 L368.2 249.9 L367 252 L364.8 252.4 L363.8 254.6 L361.9 255.4 L360.3 256.8 L358 257.3 L356.3 259.1 L354.4 260.5 L352.4 261.8 L350.9 263.7 L349.3 265.4 L347.2 266.6 L345.8 268.6 L343.6 269.6 L342.4 271.8 L340.3 273.1 L337.7 274 L336.6 276.2 L334.8 277.6 L333.4 279.3 L331.4 280.4 L330.4 282.7 L328.9 284.7 L326.7 285.9 L325.9 288.2 L325 290 L324.4 292 L322.4 293.2 L321.4 294.7 L320.3 296.2 L318.9 297.8 L318.4 300.2 L316.1 301.4 L315.2 303.6 L313.3 305 L312.2 307 L310.8 308.8 L309.5 310.6 L307.6 311.8 L306.5 313.8 L305.3 315.9 L303.2 317.2 L302.8 319.6 L301 321 L300.3 323 L298.5 324.2 L297.4 325.9 L309.8 333.9 L311.2 332.4 L312.2 330.6 L312.9 328.7 L314.4 327.4 L315.1 325.6 L316.3 323.9 L318.2 322.7 L318.7 320.3 L320.4 318.9 L322 317.3 L322.9 315.3 L324.3 313.4 L325.8 311.7 L327.8 310.3 L328.1 307.6 L330.4 306.3 L331.3 303.9 L332.6 302.2 L333.1 300 L334.9 298.7 L335.9 296.9 L336.2 294.7 L337.8 293.6 L338.4 291.8 L340.1 290.8 L341.1 289 L342.6 287.5 L344 285.8 L345.1 284.1 L346.3 282.4 L348.5 281.5 L349.9 279.9 L350.8 277.4 L352.7 276.1 L353.9 274.1 L355.6 272.5 L358.2 272.1 L359.9 270.5 L360.9 268.1 L362.3 266.2 L364 264.7 L366.2 264.4 L367.2 262.4 L369.4 262 L371.2 261 L371.9 258.5 L373.9 258 L375 256.4 L377.2 255.8 L379.4 255.2 L380.8 253 L383.5 252.9 L385.5 251.7 L387.6 250.3 L389.3 248.5 L391.2 246.9 L393 245.6 L395.1 244.5 L396.6 243.3 L398.3 242.2 L400.7 242.5 L402.4 241.4 L404.3 240.6 L406 239.6 L407.6 238.1 L409 236.5 L411.2 236.4 L412.6 234.7 L414.9 234.7 L416.8 233.9 L418.1 231.9 L420.1 231.4 L422 230.3 L423.7 228.8 L426.1 228.5 L427.3 226.3 L429.6 226 L431.5 224.8Z"/>
<path fill="#1fe6f5" d="M404.7 232.5 L402.8 233.2 L401.2 234.5 L398.8 234.2 L397.1 235.3 L395.4 236.5 L393.8 238 L391.9 238.9 L389.3 239.3 L387.2 240.7 L385.6 242.6 L383.2 243.3 L381.1 244.3 L379.4 245.7 L377.5 246.9 L375.4 248.1 L372.9 248.6 L371.1 250.3 L369 251.1 L367.3 252.4 L366 254.1 L364.3 255.2 L363 256.9 L360.7 257.4 L359.8 259.6 L357.7 260.8 L355.7 262.1 L353.3 262.9 L352.1 265.1 L350.1 266.3 L348.6 268.2 L346.9 269.8 L344.5 270.6 L343.7 273.1 L341.1 273.9 L339.8 276.1 L338.4 277.8 L337 279.6 L334.5 280.2 L333.2 282 L332.4 284.4 L329.7 285.2 L329.1 287.6 L327.6 289.3 L326.9 291.2 L325.6 292.8 L324.6 294.5 L323.6 296.2 L322.9 298 L320.6 299.1 L319.8 301.3 L317.5 302.4 L317.1 305 L315.8 306.9 L313.6 308.1 L313.1 310.5 L311.4 312 L310.2 313.9 L308.1 315 L306.4 316.6 L305.9 319.1 L305 321.1 L303.6 322.7 L301.7 323.8 L301.6 326.2 L300.2 327.7 L308 332.8 L309.1 331.1 L310.5 329.6 L312.2 328.2 L312.6 326.2 L313.6 324.5 L314.9 322.9 L316.1 321.1 L317.6 319.5 L319.5 318.2 L320.2 315.9 L321.1 313.8 L322.5 312 L323.7 310 L325.5 308.5 L326.5 306.4 L328.2 304.7 L329.4 302.6 L330.3 300.7 L332.7 299.7 L332.6 297.2 L333.8 295.5 L335.7 294.4 L336.8 292.9 L337.5 291.1 L338.2 289.1 L340.3 288.3 L341.7 286.6 L342.8 284.7 L343.8 282.9 L345 281.1 L346.9 279.9 L348.1 277.9 L349.6 276.2 L351.8 275.1 L353.6 273.7 L354.7 271.6 L356.4 269.9 L358.1 268.4 L360 267 L361.9 265.7 L363.6 264.3 L364.6 262.4 L366.5 261.5 L368.2 260.4 L369.8 259.1 L371.8 258.4 L373.1 256.9 L374.4 255.3 L376.8 255 L378.1 252.8 L380.2 251.8 L382.6 251.3 L384.2 249.4 L386.8 249.1 L388.7 247.5 L390.3 245.6 L392.8 245.2 L394.9 244.1 L396 242 L397.8 241.4 L399.6 240.4 L401.8 240.3 L403.4 238.8 L405 237.5 L406.7 236.5Z"/>
<path fill="#8cf7fb" d="M372 251.9 L370.2 252.9 L368.6 254.2 L367.6 256.2 L365.2 256.4 L363.6 257.7 L362.3 259.4 L360.6 260.5 L359.2 262.6 L357.2 263.8 L355 264.8 L353.2 266.3 L351.5 268 L350.4 270.2 L348.5 271.5 L346 272.3 L345 274.5 L343 275.9 L341.5 277.8 L339.6 278.9 L337.9 280.4 L337 282.5 L335.7 284.3 L334.1 285.8 L332.9 287.7 L331.4 289.2 L329.7 290.6 L329.2 292.6 L327.6 294.1 L326.2 295.6 L325.4 297.4 L325.2 299.6 L323.4 301.1 L322.4 303.2 L320.8 304.9 L319.3 306.7 L317.1 307.9 L316.3 310.2 L314.8 311.8 L313.9 313.9 L311.8 315.1 L311.3 317.5 L309.9 319.2 L307.9 320.5 L307.1 322.5 L305.7 324.1 L304.9 325.9 L304.1 327.8 L302.2 329 L306.7 332 L306.8 329.6 L308 327.9 L309.2 326.3 L311 325.1 L312.1 323.5 L312.7 321.3 L314.7 320 L315.9 318.2 L317.1 316.4 L318.5 314.6 L319.3 312.5 L321.4 311.2 L322.6 309.2 L324.2 307.5 L324.6 304.9 L326.6 303.5 L328.2 301.8 L329.4 300 L329.5 297.7 L330.6 296 L332.2 294.6 L333.3 292.8 L334.1 291 L335.5 289.7 L336.8 288 L337.6 286 L339.2 284.4 L340.7 282.9 L342.8 281.9 L344.1 280.3 L345.5 278.5 L347.5 277.2 L349.1 275.6 L350.1 273.3 L352.4 272.4 L353.4 270.1 L355.1 268.5 L356.9 267 L359.3 266.3 L360.4 264 L362.5 262.9 L363.8 261.3 L365.3 259.9 L367.4 259.3 L368.8 257.8 L370.8 257.1 L372.5 255.9 L373.9 254.4Z"/>
<path fill="#99075a" d="M399.9 274.4 L402.2 273.2 L403.3 276.6 L406.2 277.2 L405.6 279.5 L402.2 280.1 L400.5 277.8Z"/>
</g>
<path d="M-35.6 120.4 L-27.3 118.1 L-19 115.8 L-10.6 113.6 L-2.2 111.4 L6.2 109.3 L14.6 107.3 L23 105.3 L31.4 103.4 L39.9 101.5 L48.4 99.8 L56.8 98 L65.3 96.4 L73.8 94.8 L82.3 93.3 L90.9 91.8 L99.4 90.4 L108 89.1 L116.5 87.8 L125.1 86.6 L133.7 85.5 L142.2 84.4 L150.8 83.4 L159.4 82.5 L168 81.6 L176.7 80.8 L185.3 80 L193.9 79.3 L202.5 78.7 L211.2 78.2 L219.8 77.7 L228.4 77.3 L237.1 76.9 L245.7 76.6 L254.4 76.4 L263 76.3 L271.7 76.2 L280.3 76.1 L289 76.2 L297.6 76.3 L306.3 76.4 L314.9 76.7 L323.6 77 L332.2 77.3 L340.9 77.8 L349.5 78.3 L358.1 78.8 L366.8 79.5 L375.4 80.1 L384 80.9 L392.6 81.7 L401.2 82.6 L409.8 83.6 L418.4 84.6 L427 85.7 L435.6 86.8 L444.1 88 L452.7 89.3 L461.2 90.6 L469.8 92 L478.3 93.5 L486.8 95 L495.3 96.6 L503.8 98.3 L512.3 100 L520.8 101.8 L529.2 103.7 L537.6 105.6 L546.1 107.6 L554.5 109.6 L562.9 111.7 L571.2 113.9 L579.6 116.1 L587.9 118.4 L596.3 120.8 L604.6 123.2 L612.8 125.7 L621.1 128.3 L629.4 130.9 L637.6 133.6 L645.8 136.3 L654 139.1 L662.1 142 L670.3 144.9 L678.4 147.9 L686.5 150.9 L694.6 154 L702.6 157.2 L710.6 160.4 L718.7 163.7 L726.6 167.1 L734.6 170.5 L742.5 173.9 L750.4 177.5 L758.3 181.1 L766.1 184.7 L773.9 188.4 L781.7 192.2 L789.5 196 L797.2 199.9 L804.9 203.8 L812.6 207.8 L820.2 211.9 L827.8 216 L835.4 220.2 L843 224.4 L850.5 228.7 L857.9 233.1 L865.4 237.5 L872.8 241.9 L880.2 246.4 L887.5 251 L894.8 255.6 L902.1 260.3 L909.4 265 L916.6 269.8 L923.7 274.7 L930.9 279.6 L938 284.5 L945 289.5 L952 294.6 M-9.8 210.4 L-2.2 208.3 L5.5 206.2 L13.1 204.1 L20.8 202.1 L28.5 200.2 L36.3 198.3 L44 196.5 L51.7 194.8 L59.5 193.1 L67.3 191.4 L75.1 189.9 L82.9 188.3 L90.7 186.9 L98.5 185.5 L106.3 184.1 L114.2 182.9 L122 181.6 L129.9 180.5 L137.7 179.4 L145.6 178.3 L153.5 177.3 L161.4 176.4 L169.3 175.5 L177.2 174.7 L185.1 174 L193 173.3 L200.9 172.7 L208.8 172.1 L216.8 171.6 L224.7 171.2 L232.6 170.8 L240.6 170.5 L248.5 170.2 L256.5 170 L264.4 169.8 L272.3 169.8 L280.3 169.7 L288.2 169.8 L296.2 169.9 L304.1 170 L312 170.2 L320 170.5 L327.9 170.8 L335.9 171.2 L343.8 171.7 L351.7 172.2 L359.6 172.8 L367.6 173.4 L375.5 174.1 L383.4 174.9 L391.3 175.7 L399.2 176.6 L407.1 177.5 L414.9 178.5 L422.8 179.5 L430.7 180.6 L438.5 181.8 L446.4 183 L454.2 184.3 L462.1 185.7 L469.9 187.1 L477.7 188.6 L485.5 190.1 L493.3 191.7 L501 193.3 L508.8 195 L516.5 196.8 L524.3 198.6 L532 200.5 L539.7 202.4 L547.4 204.4 L555 206.5 L562.7 208.6 L570.3 210.8 L578 213 L585.6 215.3 L593.2 217.6 L600.7 220 L608.3 222.5 L615.8 225 L623.3 227.6 L630.8 230.2 L638.3 232.9 L645.8 235.6 L653.2 238.4 L660.6 241.3 L668 244.2 L675.4 247.1 L682.7 250.1 L690.1 253.2 L697.4 256.4 L704.6 259.5 L711.9 262.8 L719.1 266.1 L726.3 269.4 L733.5 272.8 L740.6 276.3 L747.8 279.8 L754.9 283.4 L761.9 287 L769 290.7 L776 294.4 L783 298.2 L789.9 302 L796.9 305.9 L803.8 309.8 L810.6 313.8 L817.5 317.9 L824.3 322 L831.1 326.1 L837.8 330.3 L844.5 334.5 L851.2 338.8 L857.8 343.2 L864.5 347.6 L871 352 L877.6 356.5 L884.1 361.1 L890.6 365.7 L897 370.3 M15.6 299.2 L22.6 297.3 L29.6 295.3 L36.6 293.5 L43.6 291.7 L50.6 289.9 L57.7 288.2 L64.7 286.6 L71.8 285 L78.9 283.4 L86 281.9 L93.1 280.5 L100.2 279.1 L107.3 277.8 L114.4 276.5 L121.6 275.3 L128.7 274.1 L135.9 273 L143 271.9 L150.2 270.9 L157.4 270 L164.6 269.1 L171.8 268.2 L179 267.4 L186.2 266.7 L193.4 266 L200.6 265.4 L207.8 264.8 L215.1 264.3 L222.3 263.8 L229.5 263.4 L236.8 263.1 L244 262.8 L251.3 262.6 L258.5 262.4 L265.7 262.2 L273 262.2 L280.2 262.1 L287.5 262.2 L294.7 262.2 L302 262.4 L309.2 262.6 L316.4 262.8 L323.7 263.1 L330.9 263.5 L338.1 263.9 L345.4 264.4 L352.6 264.9 L359.8 265.5 L367 266.1 L374.3 266.8 L381.5 267.6 L388.7 268.4 L395.9 269.2 L403 270.1 L410.2 271.1 L417.4 272.1 L424.6 273.2 L431.7 274.3 L438.9 275.5 L446 276.7 L453.1 278 L460.3 279.3 L467.4 280.7 L474.5 282.1 L481.6 283.6 L488.6 285.2 L495.7 286.8 L502.7 288.5 L509.8 290.2 L516.8 291.9 L523.8 293.8 L530.8 295.6 L537.8 297.6 L544.8 299.5 L551.7 301.6 L558.7 303.7 L565.6 305.8 L572.5 308 L579.4 310.2 L586.3 312.5 L593.1 314.9 L599.9 317.3 L606.8 319.7 L613.6 322.2 L620.3 324.8 L627.1 327.4 L633.9 330 L640.6 332.7 L647.3 335.5 L654 338.3 L660.6 341.1 L667.2 344 L673.9 347 L680.5 350 L687 353.1 L693.6 356.2 L700.1 359.3 L706.6 362.5 L713.1 365.8 L719.5 369.1 L725.9 372.4 L732.3 375.8 L738.7 379.3 L745 382.8 L751.4 386.3 L757.7 389.9 L763.9 393.5 L770.2 397.2 L776.4 401 L782.5 404.7 L788.7 408.6 L794.8 412.4 L800.9 416.4 L807 420.3 L813 424.3 L819 428.4 L825 432.5 L830.9 436.6 L836.8 440.8 L842.7 445.1 M41.7 390.2 L48 388.4 L54.3 386.7 L60.6 385 L66.9 383.4 L73.3 381.8 L79.6 380.2 L86 378.7 L92.3 377.3 L98.7 375.9 L105.1 374.6 L111.5 373.3 L117.9 372 L124.3 370.8 L130.7 369.7 L137.2 368.6 L143.6 367.5 L150.1 366.5 L156.5 365.6 L163 364.6 L169.5 363.8 L176 363 L182.4 362.2 L188.9 361.5 L195.4 360.9 L201.9 360.2 L208.4 359.7 L214.9 359.2 L221.5 358.7 L228 358.3 L234.5 357.9 L241 357.6 L247.5 357.3 L254.1 357.1 L260.6 356.9 L267.1 356.8 L273.6 356.8 L280.2 356.7 L286.7 356.8 L293.2 356.8 L299.8 357 L306.3 357.1 L312.8 357.4 L319.3 357.6 L325.9 358 L332.4 358.3 L338.9 358.8 L345.4 359.2 L351.9 359.8 L358.4 360.3 L364.9 360.9 L371.4 361.6 L377.9 362.3 L384.4 363.1 L390.9 363.9 L397.3 364.8 L403.8 365.7 L410.3 366.7 L416.7 367.7 L423.1 368.7 L429.6 369.8 L436 371 L442.4 372.2 L448.8 373.5 L455.2 374.8 L461.6 376.1 L468 377.5 L474.4 379 L480.7 380.5 L487.1 382 L493.4 383.6 L499.7 385.2 L506 386.9 L512.3 388.7 L518.6 390.5 L524.9 392.3 L531.1 394.2 L537.4 396.1 L543.6 398.1 L549.8 400.1 L556 402.1 L562.2 404.3 L568.3 406.4 L574.5 408.6 L580.6 410.9 L586.7 413.2 L592.8 415.5 L598.9 417.9 L604.9 420.3 L611 422.8 L617 425.4 L623 427.9 L629 430.6 L634.9 433.2 L640.9 435.9 L646.8 438.7 L652.7 441.5 L658.6 444.3 L664.4 447.2 L670.3 450.1 L676.1 453.1 L681.9 456.1 L687.6 459.2 L693.4 462.3 L699.1 465.5 L704.8 468.7 L710.4 471.9 L716.1 475.2 L721.7 478.5 L727.3 481.9 L732.9 485.3 L738.4 488.7 L743.9 492.2 L749.4 495.7 L754.9 499.3 L760.3 502.9 L765.7 506.6 L771.1 510.3 L776.5 514 L781.8 517.8 L787.1 521.6 M67.8 481 L73.4 479.4 L79 477.9 L84.6 476.4 L90.2 474.9 L95.9 473.5 L101.5 472.2 L107.2 470.8 L112.8 469.6 L118.5 468.3 L124.2 467.1 L129.9 466 L135.6 464.8 L141.3 463.8 L147.1 462.8 L152.8 461.8 L158.5 460.8 L164.3 459.9 L170 459.1 L175.8 458.3 L181.5 457.5 L187.3 456.8 L193.1 456.1 L198.9 455.5 L204.6 454.9 L210.4 454.4 L216.2 453.9 L222 453.4 L227.8 453 L233.6 452.6 L239.4 452.3 L245.2 452 L251.1 451.8 L256.9 451.6 L262.7 451.4 L268.5 451.3 L274.3 451.2 L280.1 451.2 L285.9 451.3 L291.7 451.3 L297.6 451.4 L303.4 451.6 L309.2 451.8 L315 452 L320.8 452.3 L326.6 452.7 L332.4 453 L338.2 453.5 L344 453.9 L349.8 454.4 L355.6 455 L361.4 455.6 L367.1 456.2 L372.9 456.9 L378.7 457.6 L384.5 458.4 L390.2 459.2 L396 460.1 L401.7 461 L407.4 461.9 L413.2 462.9 L418.9 463.9 L424.6 465 L430.3 466.1 L436 467.3 L441.7 468.5 L447.4 469.7 L453 471 L458.7 472.4 L464.4 473.7 L470 475.2 L475.6 476.6 L481.2 478.1 L486.8 479.7 L492.4 481.3 L498 482.9 L503.6 484.6 L509.1 486.3 L514.7 488 L520.2 489.8 L525.7 491.7 L531.2 493.6 L536.7 495.5 L542.2 497.4 L547.7 499.4 L553.1 501.5 L558.5 503.6 L563.9 505.7 L569.3 507.9 L574.7 510.1 L580.1 512.3 L585.4 514.6 L590.7 517 L596 519.3 L601.3 521.8 L606.6 524.2 L611.9 526.7 L617.1 529.2 L622.3 531.8 L627.5 534.4 L632.7 537.1 L637.8 539.8 L643 542.5 L648.1 545.3 L653.2 548.1 L658.2 550.9 L663.3 553.8 L668.3 556.7 L673.3 559.7 L678.3 562.7 L683.3 565.7 L688.2 568.8 L693.1 571.9 L698 575 L702.9 578.2 L707.7 581.4 L712.5 584.7 L717.3 588 L722.1 591.3 L726.8 594.7 L731.6 598.1 M93.8 571.8 L98.7 570.4 L103.6 569 L108.5 567.7 L113.5 566.4 L118.4 565.2 L123.4 564 L128.3 562.8 L133.3 561.7 L138.3 560.6 L143.3 559.6 L148.3 558.6 L153.3 557.6 L158.3 556.6 L163.3 555.7 L168.4 554.9 L173.4 554.1 L178.4 553.3 L183.5 552.5 L188.5 551.8 L193.6 551.1 L198.6 550.5 L203.7 549.9 L208.8 549.4 L213.9 548.8 L218.9 548.4 L224 547.9 L229.1 547.5 L234.2 547.2 L239.3 546.8 L244.4 546.6 L249.5 546.3 L254.6 546.1 L259.7 545.9 L264.8 545.8 L269.9 545.7 L275 545.6 L280.1 545.6 L285.2 545.7 L290.3 545.7 L295.4 545.8 L300.5 546 L305.6 546.1 L310.7 546.3 L315.7 546.6 L320.8 546.9 L325.9 547.2 L331 547.6 L336.1 548 L341.2 548.4 L346.3 548.9 L351.3 549.4 L356.4 550 L361.5 550.6 L366.5 551.2 L371.6 551.9 L376.6 552.6 L381.7 553.4 L386.7 554.2 L391.8 555 L396.8 555.9 L401.8 556.8 L406.8 557.7 L411.8 558.7 L416.8 559.7 L421.8 560.8 L426.8 561.9 L431.8 563 L436.7 564.2 L441.7 565.4 L446.6 566.6 L451.6 567.9 L456.5 569.2 L461.4 570.6 L466.3 572 L471.2 573.4 L476.1 574.9 L481 576.4 L485.8 577.9 L490.7 579.5 L495.5 581.1 L500.3 582.8 L505.2 584.4 L510 586.2 L514.7 587.9 L519.5 589.7 L524.3 591.6 L529 593.4 L533.8 595.3 L538.5 597.3 L543.2 599.2 L547.9 601.3 L552.5 603.3 L557.2 605.4 L561.8 607.5 L566.5 609.6 L571.1 611.8 L575.7 614.1 L580.2 616.3 L584.8 618.6 L589.3 620.9 L593.9 623.3 L598.4 625.7 L602.8 628.1 L607.3 630.6 L611.8 633.1 L616.2 635.6 L620.6 638.2 L625 640.7 L629.4 643.4 L633.7 646 L638 648.7 L642.4 651.5 L646.6 654.2 L650.9 657 L655.2 659.8 L659.4 662.7 L663.6 665.6 L667.8 668.5 L671.9 671.4 L676.1 674.4 M120.1 663.5 L124.3 662.3 L128.5 661.1 L132.7 660 L137 658.9 L141.2 657.8 L145.5 656.8 L149.8 655.8 L154 654.8 L158.3 653.9 L162.6 653 L166.9 652.1 L171.2 651.3 L175.5 650.5 L179.8 649.7 L184.1 649 L188.4 648.3 L192.8 647.6 L197.1 646.9 L201.4 646.3 L205.8 645.8 L210.1 645.2 L214.5 644.7 L218.8 644.2 L223.2 643.8 L227.5 643.4 L231.9 643 L236.3 642.7 L240.6 642.3 L245 642.1 L249.4 641.8 L253.7 641.6 L258.1 641.4 L262.5 641.3 L266.9 641.2 L271.2 641.1 L275.6 641 L280 641 L284.4 641 L288.8 641.1 L293.1 641.2 L297.5 641.3 L301.9 641.5 L306.3 641.6 L310.6 641.9 L315 642.1 L319.4 642.4 L323.8 642.7 L328.1 643.1 L332.5 643.4 L336.8 643.9 L341.2 644.3 L345.5 644.8 L349.9 645.3 L354.2 645.9 L358.6 646.4 L362.9 647 L367.3 647.7 L371.6 648.4 L375.9 649.1 L380.2 649.8 L384.5 650.6 L388.8 651.4 L393.1 652.3 L397.4 653.1 L401.7 654 L406 655 L410.2 655.9 L414.5 656.9 L418.8 658 L423 659.1 L427.2 660.2 L431.5 661.3 L435.7 662.4 L439.9 663.6 L444.1 664.9 L448.3 666.1 L452.5 667.4 L456.7 668.7 L460.8 670.1 L465 671.5 L469.1 672.9 L473.3 674.4 L477.4 675.8 L481.5 677.3 L485.6 678.9 L489.7 680.5 L493.8 682.1 L497.8 683.7 L501.9 685.4 L505.9 687.1 L509.9 688.8 L513.9 690.5 L517.9 692.3 L521.9 694.1 L525.9 696 L529.8 697.9 L533.8 699.8 L537.7 701.7 L541.6 703.7 L545.5 705.7 L549.4 707.7 L553.3 709.8 L557.1 711.8 L561 714 L564.8 716.1 L568.6 718.3 L572.4 720.5 L576.1 722.7 L579.9 724.9 L583.6 727.2 L587.3 729.5 L591.1 731.9 L594.7 734.3 L598.4 736.7 L602 739.1 L605.7 741.5 L609.3 744 L612.9 746.5 L616.4 749 L620 751.6 M167.7 732.7 L-0.2 1.8 M254 720.7 L215.6 -28.3 M341.1 723.8 L433.3 -20.5 M426.4 742 L646.4 25 M507.1 774.8 L848.3 106.9" fill="none" stroke="#858585" stroke-width="1.1" stroke-dasharray="5.6 1.6 1.2 1.6"/>
<path fill="none" stroke="#4c4c4c" stroke-width="1.1" stroke-linejoin="round" d="M180.5 461.6 L188.6 465.6 L194.7 468 L198.7 458 L206.8 453.5 L206.8 443.8 M180.5 464 L187.8 472.5 L194.7 479.7 M267.3 427.3 L273.3 425.3 L280 421.2 M137.2 557.3 L141.2 553.2 L147.3 555.3 L151.3 559.3 L155.4 555.3 L159.4 557.3 L163.4 561.3 L169.5 557.3 L173.5 561.3 L177.6 565.4 L181.6 567.4 M137.2 557.3 L139.2 565.4 L145.3 569.4 L143.2 577.5 L149.3 583.5 L153.3 589.6 L157.4 583.5 L163.4 585.5 L163.4 577.5 L155.4 575.4 L151.3 579.5 L145.3 577.5 M347.1 605 L347.7 612.5 L338.6 628.6 L334.6 638.7 L342.6 646.8 L350.7 656.9 L360.8 666.9 M386.3 260.7 L388.5 265.3 L394.2 268.7 L397.6 273.2 L400.5 277.2 M368 267.5 L377.1 268.7 L382.8 272.1 L391.9 272.1 L397.1 274.6 M366.9 288 L373.7 291.4 L374.9 297.1 L378.3 301.7 L382.8 304 L382.8 311.9 L384 318.8 L385.1 327.9 L388.5 334.7 L389.7 341.6 M380.3 326 L383.3 330 L388.4 336 L382.3 346.1 L381.3 360.2 L374.3 363.3 M356.1 432.8 L360.2 446.9 L364.2 449 L359.2 442.9 M361.6 510.4 L362.4 530.6 L365.6 546.8 L361.6 564.9 L359.1 581.1 L351.1 597.2 L347 605.1"/>
<path fill="none" stroke="#c4c6ee" stroke-width="1.2" stroke-linejoin="round" d="M327.1 330 L316.6 335.9 L310.7 342.1 L304.1 350 L301 358.2 L302.4 367.7 L300.6 380.4 L306.7 388.5 L310.7 400.6 L318.8 406.7 L324.8 410.7 L330.9 418.8 L336.9 426.9 L340 439 L343 451.1 L345 461.2 L340 469.2 L337.9 475.1 M318.8 396.6 L326.9 394.6 L334.9 393.8 L339 396.6 L330.9 398.6 L324.8 401 M343 424.8 L347 422.8 L351.1 430.9 L353.1 439 L350.3 440.6 L347 432.9 M343 460 L345 472.1 L351.1 480.2 L353.1 492.3 L349 500.4 L343 506.4 L349 512.5 L351.1 520.5 L345 526.6 L339 530.6 L347 536.7 L349 546.8 L347 556.9 L343 564.9 L336.9 573 L343 581.1 L349 583.1 L351.1 589.1 L345 597.2 L343 605.1 M336.6 570.1 L342.6 576.1 L350.7 578.2 L346.7 586.2 L340.6 590.3 L338.6 600.4 L336.6 608.4 L342.6 612.5 L336.6 620.5 L328.5 626.6 L322.5 636.7 L330.5 640.7 L334.6 638.7 M280.4 550.8 L268.6 563.8 L247.3 573.2 L226 580.3 L209.5 591 L197.7 596.9 L174.1 603.9 L169.8 606.3 M178.8 570.9 L185.9 566.6 L195.3 568.5 L199.1 575.6 L197.7 585 L199.1 590.7 L193 592.1 L185.9 586.5 L179.3 580.3 L178.8 570.9"/>
<path fill="none" stroke="#ecb6e0" stroke-width="1.5" stroke-linejoin="round" d="M215.3 436.1 L215.9 452.2 L226.4 458.2 L240.5 460.3 L246.6 468.3 L258.7 480.4 L264.7 510.7 L260.7 534.9 L254.7 545 L246.6 551.1 L220.4 553.1 L208.2 549 M256.7 452.2 L268.8 470.4 L274.8 496.6 L280.9 520.8 L278.9 543 L272.8 561.2 L260.7 571.2 L246.6 575.1 M226.4 474.8 L232.5 467.5 L240.5 468.3 L244.6 474.4 L243 484.5 L236.5 487.7 L230.4 482.9 L226.4 474.8 M237.7 530.9 L230.4 532.1 L224.4 534.9 L230.4 538.2 L238.5 536.9 M363.5 288 L357.8 292.6 L355.5 299.4 L357.8 305.1 L364.6 308.5 L371.4 306.3 L376 302.8 L372.6 299.4 L368 292.6 L363.5 288 M328.2 308.5 L335 310.8 L339.6 311.9 L344.1 318.8 L346.4 325.6 L349.2 329 L348.7 323.3 L347.5 314.2 L350.9 310.8 L357.8 310.8 L361.2 315.4 L362.3 321.1 L364.6 315.4 L366.9 311.9 L371.4 310.8 L373.7 316.5 L376 311.9 L378.3 308.5 L382.8 307.4"/>
<circle cx="428.1" cy="168.3" r="4.9" fill="none" stroke="#1a1a1a" stroke-width="1.6"/><circle cx="457.2" cy="250.3" r="4.9" fill="none" stroke="#1a1a1a" stroke-width="1.6"/><circle cx="325.4" cy="273.5" r="4.8" fill="none" stroke="#1a1a1a" stroke-width="1.6"/><circle cx="364.3" cy="342.5" r="4.8" fill="none" stroke="#1a1a1a" stroke-width="1.6"/><circle cx="263.3" cy="359.9" r="4.8" fill="none" stroke="#1a1a1a" stroke-width="1.6"/>
</g>
<rect x="121.7" y="88" width="492.6" height="579" fill="none" stroke="#222" stroke-width="1.2"/>
<text transform="translate(116 94.2) scale(1.125 1)" class="ax" text-anchor="end">60°S</text><text transform="translate(116 188.2) scale(1.125 1)" class="ax" text-anchor="end">62.5°S</text><text transform="translate(116 282.4) scale(1.125 1)" class="ax" text-anchor="end">65°S</text><text transform="translate(116 378.1) scale(1.125 1)" class="ax" text-anchor="end">67.5°S</text><text transform="translate(116 474) scale(1.125 1)" class="ax" text-anchor="end">70°S</text><text transform="translate(116 570.8) scale(1.125 1)" class="ax" text-anchor="end">72.5°S</text><text transform="translate(116 670) scale(1.125 1)" class="ax" text-anchor="end">75°S</text><text transform="translate(152.6 687) scale(1.125 1)" class="ax" text-anchor="middle">80°W</text><text transform="translate(251.5 687) scale(1.125 1)" class="ax" text-anchor="middle">70°W</text><text transform="translate(347.8 687) scale(1.125 1)" class="ax" text-anchor="middle">60°W</text><text transform="translate(447.2 687) scale(1.125 1)" class="ax" text-anchor="middle">50°W</text><text transform="translate(560.5 687) scale(1.125 1)" class="ax" text-anchor="middle">40°W</text>
<rect x="635.2" y="607.9" width="25.1" height="20.9" fill="#ffffff"/><rect x="635.2" y="587.4" width="25.1" height="20.9" fill="#80ffff"/><rect x="635.2" y="566.8" width="25.1" height="20.9" fill="#00fafa"/><rect x="635.2" y="546.3" width="25.1" height="20.9" fill="#00f2fa"/><rect x="635.2" y="525.8" width="25.1" height="20.9" fill="#00e4fa"/><rect x="635.2" y="505.3" width="25.1" height="20.9" fill="#00d4f7"/><rect x="635.2" y="484.7" width="25.1" height="20.9" fill="#00c6f6"/><rect x="635.2" y="464.2" width="25.1" height="20.9" fill="#08b8f5"/><rect x="635.2" y="443.7" width="25.1" height="20.9" fill="#0ea8f5"/><rect x="635.2" y="423.2" width="25.1" height="20.9" fill="#1096f5"/><rect x="635.2" y="402.7" width="25.1" height="20.9" fill="#1087f5"/><rect x="635.2" y="382.1" width="25.1" height="20.9" fill="#1076f6"/><rect x="635.2" y="361.6" width="25.1" height="20.9" fill="#1064f7"/><rect x="635.2" y="341.1" width="25.1" height="20.9" fill="#1050f8"/><rect x="635.2" y="320.6" width="25.1" height="20.9" fill="#103cf9"/><rect x="635.2" y="300.1" width="25.1" height="20.9" fill="#1028f8"/><rect x="635.2" y="279.5" width="25.1" height="20.9" fill="#1416f2"/><rect x="635.2" y="259" width="25.1" height="20.9" fill="#2610e4"/><rect x="635.2" y="238.5" width="25.1" height="20.9" fill="#3c0ece"/><rect x="635.2" y="218" width="25.1" height="20.9" fill="#540eb4"/><rect x="635.2" y="197.4" width="25.1" height="20.9" fill="#6a0e98"/><rect x="635.2" y="176.9" width="25.1" height="20.9" fill="#800c78"/><rect x="635.2" y="156.4" width="25.1" height="20.9" fill="#960052"/><path d="M635.2 156.7 L647.8 132.8 L660.3 156.7 Z" fill="#960052"/><path d="M635.2 628.4 L635.2 156.4 L647.8 132.8 L660.3 156.4 L660.3 628.4 Z" fill="none" stroke="#1a1a1a" stroke-width="1" stroke-linejoin="miter"/><path d="M660.3 628.4 h4.6" stroke="#1a1a1a" stroke-width="1"/><text transform="translate(668.2 643.4) scale(0.94 1)" class="cbt">0</text><path d="M660.3 510.4 h4.6" stroke="#1a1a1a" stroke-width="1"/><text transform="translate(668.2 525.4) scale(0.94 1)" class="cbt">20</text><path d="M660.3 392.4 h4.6" stroke="#1a1a1a" stroke-width="1"/><text transform="translate(668.2 407.4) scale(0.94 1)" class="cbt">40</text><path d="M660.3 274.4 h4.6" stroke="#1a1a1a" stroke-width="1"/><text transform="translate(668.2 289.4) scale(0.94 1)" class="cbt">60</text><path d="M660.3 156.4 h4.6" stroke="#1a1a1a" stroke-width="1"/><text transform="translate(668.2 171.4) scale(0.94 1)" class="cbt">80</text>
<text x="166.2" y="71.2" class="ttl" textLength="239.6" lengthAdjust="spacingAndGlyphs">Танення снігів (в мм)</text>
<text class="cbl" text-anchor="middle" transform="translate(729.8 395.3) rotate(-90) scale(0.985 1)">Snowmelt [mm w.e.]</text>
</svg>
</body></html>
